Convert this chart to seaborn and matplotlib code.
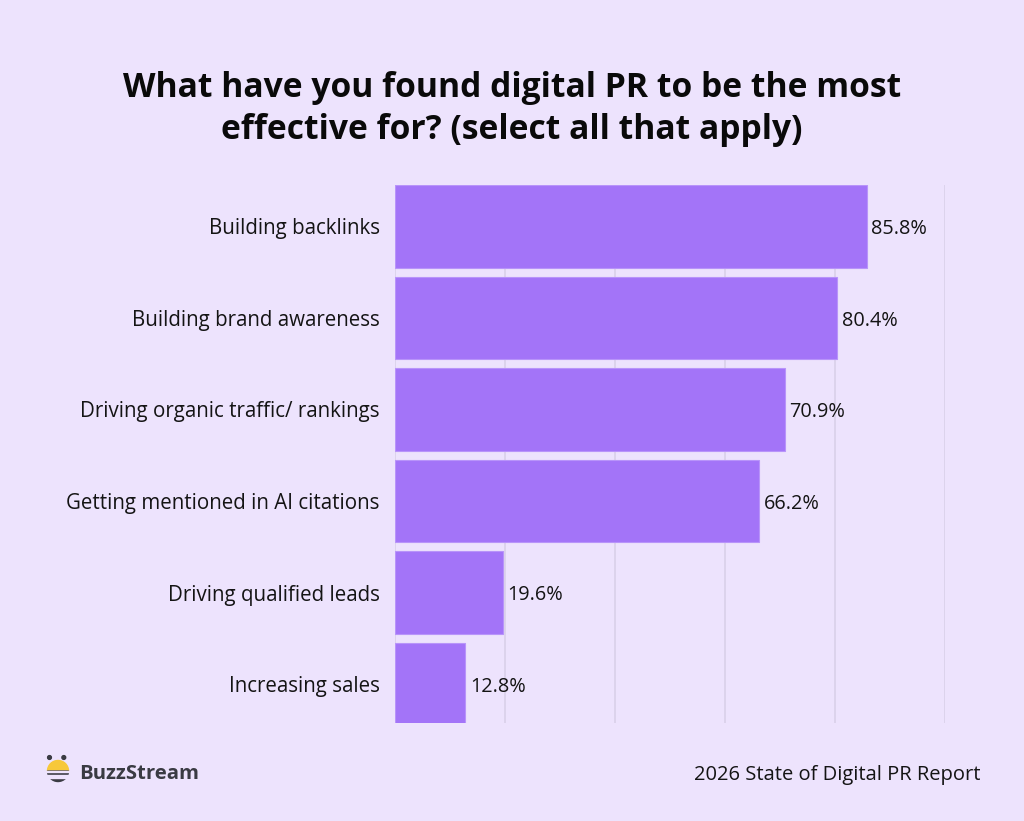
import matplotlib
matplotlib.use("Agg")
import matplotlib.pyplot as plt
import seaborn as sns
import pandas as pd
from matplotlib.patches import Wedge, Circle, Rectangle

categories = [
    "Building backlinks",
    "Building brand awareness",
    "Driving organic traffic/ rankings",
    "Getting mentioned in AI citations",
    "Driving qualified leads",
    "Increasing sales",
]
values = [85.8, 80.4, 70.9, 66.2, 19.6, 12.8]
value_labels = ["85.8%", "80.4%", "70.9%", "66.2%", "19.6%", "12.8%"]
title_lines = ["What have you found digital PR to be the most",
               "effective for? (select all that apply)"]
footer = "2026 State of Digital PR Report"
brand = "BuzzStream"
x_ticks = [0, 20, 40, 60, 80, 100]

BG = "#EDE3FD"
BAR = "#A374F8"
BAR_EDGE = "#B894FA"
GRID = "#D8CFE8"
TXT = "#141414"

sns.set_theme(style="white")
plt.rcParams['font.family'] = ['Open Sans', 'DejaVu Sans']

W, H = 1024, 821
fig = plt.figure(figsize=(W / 100, H / 100), dpi=100, facecolor=BG)

ax_top, ax_bot = 185.3, 723
ax = fig.add_axes([395 / W, 1 - ax_bot / H, 550 / W, (ax_bot - ax_top) / H])
ax.set_facecolor(BG)

df = pd.DataFrame({"category": categories, "value": values})
sns.barplot(data=df, x="value", y="category", orient="h", color=BAR,
            saturation=1, width=0.9, edgecolor=BAR_EDGE, linewidth=0.8,
            ax=ax, zorder=3)

ax.set_xlim(0, 100)
ax.set_ylim(5.426, -0.45)
ax.set_xticks(x_ticks)
ax.set_xticklabels([])
ax.set_axisbelow(True)
ax.grid(axis='x', color=GRID, linewidth=1.1)
ax.grid(axis='y', visible=False)
ax.tick_params(axis='both', length=0)
ax.tick_params(axis='y', pad=11, labelsize=14.8, labelcolor=TXT)
ax.set_xlabel('')
ax.set_ylabel('')
for s in ax.spines.values():
    s.set_visible(False)

for i, (v, lab) in enumerate(zip(values, value_labels)):
    ax.text(v + 0.8, i + 0.03, lab, va='center', ha='left', fontsize=14.3,
            color=TXT)

# Title
fig.text(0.5, 1 - 88 / H, title_lines[0], ha='center', va='center',
         fontsize=24.2, fontweight='bold', color='#0a0a0a')
fig.text(0.5, 1 - 130 / H, title_lines[1], ha='center', va='center',
         fontsize=24.2, fontweight='bold', color='#0a0a0a')

# Footer
fig.text(981 / W, 1 - 775 / H, footer, ha='right', va='center',
         fontsize=14.5, color=TXT)

# Brand logo
lax = fig.add_axes([40 / W, 1 - 792 / H, 36 / W, 42 / H])
lax.set_xlim(40, 76)
lax.set_ylim(792, 750)
lax.axis('off')
lax.add_patch(Circle((49.5, 757.5), 1.9, color='#3a3b43'))
lax.add_patch(Circle((63.8, 757.5), 1.9, color='#3a3b43'))
lax.add_patch(Wedge((58, 771), 10.5, 180, 360, color='#F7C83A'))
lax.add_patch(Wedge((58, 771), 10.5, 0, 180, color='#3a3b43'))
lax.add_patch(Rectangle((44, 775.2), 30, 2.6, color=BG))
lax.add_patch(Rectangle((44, 771), 30, 1.4, color=BG))
fig.text(79 / W, 1 - 774 / H, brand, ha='left', va='center',
         fontsize=14.6, fontweight='bold', color='#3a3b43')

fig.savefig("out.png", dpi=100, facecolor=BG)
